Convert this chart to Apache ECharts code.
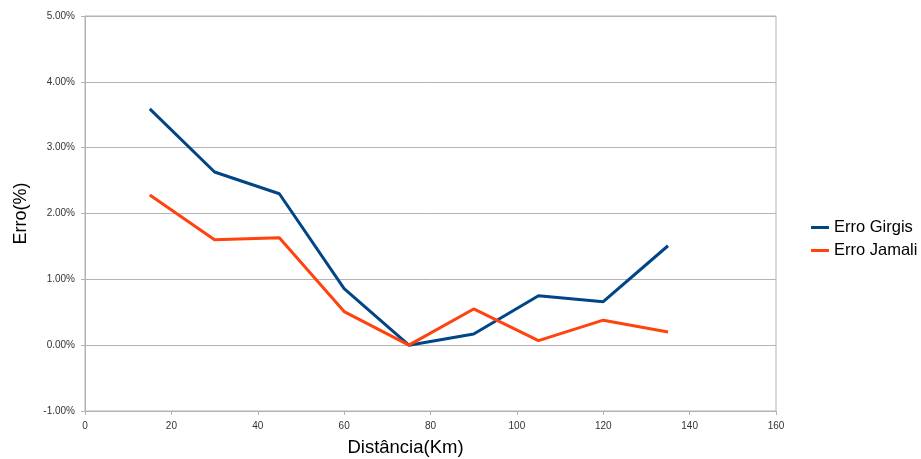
<!DOCTYPE html>
<html>
<head>
<meta charset="utf-8">
<script src="https://cdn.jsdelivr.net/npm/echarts@6/dist/echarts.min.js"></script>
<style>html,body{margin:0;padding:0;background:#fff;}#c{width:921px;height:459px;}</style>
</head>
<body>
<div id="c"></div>
<script>
const distances = [15, 30, 45, 60, 75, 90, 105, 120, 135];
const erroGirgis = [3.59, 2.63, 2.30, 0.86, 0.00, 0.17, 0.75, 0.66, 1.51];
const erroJamali = [2.28, 1.60, 1.63, 0.51, 0.00, 0.55, 0.07, 0.38, 0.20];
const seriesNames = ['Erro Girgis', 'Erro Jamali'];
const xTitle = 'Distância(Km)';
const yTitle = 'Erro(%)';

const chart = echarts.init(document.getElementById('c'));
const pair = (xs, ys) => xs.map((x, i) => [x, ys[i]]);
const font = 'Liberation Sans, Arial, sans-serif';
chart.setOption({
  animation: false,
  backgroundColor: '#fff',
  grid: { left: 85, right: 145, top: 16, bottom: 48, show: true, borderColor: '#b3b3b3', borderWidth: 1,
          containLabel: false, outerBoundsMode: 'none' },
  legend: {
    orient: 'vertical', left: 806, top: 214,
    icon: 'rect', itemWidth: 18, itemHeight: 3, itemGap: 6,
    textStyle: { fontFamily: font, fontSize: 16.5, color: '#000' },
    data: seriesNames
  },
  xAxis: {
    type: 'value', min: 0, max: 160, interval: 20,
    name: xTitle, nameLocation: 'middle', nameGap: 27,
    nameTextStyle: { fontFamily: font, fontSize: 18.5, color: '#000', padding: [0, 50, 0, 0] },
    axisLine: { show: true, onZero: false, lineStyle: { color: '#b3b3b3', width: 1 } },
    axisTick: { show: true, length: 4, lineStyle: { color: '#b3b3b3' } },
    axisLabel: { fontFamily: font, fontSize: 10, color: '#333', margin: 10 },
    splitLine: { show: false }
  },
  yAxis: {
    type: 'value', min: -1, max: 5, interval: 1,
    name: yTitle, nameLocation: 'middle', nameGap: 55, nameRotate: 90,
    nameTextStyle: { fontFamily: font, fontSize: 18, color: '#000' },
    axisLine: { show: true, onZero: false, lineStyle: { color: '#b3b3b3', width: 1 } },
    axisTick: { show: true, length: 4, lineStyle: { color: '#b3b3b3' } },
    axisLabel: { fontFamily: font, fontSize: 10, color: '#333', margin: 10, formatter: v => v.toFixed(2) + '%' },
    splitLine: { show: true, lineStyle: { color: '#b3b3b3', width: 1 } }
  },
  series: [
    { name: seriesNames[0], type: 'line', data: pair(distances, erroGirgis), showSymbol: false, symbol: 'none',
      itemStyle: { color: '#004586' }, lineStyle: { color: '#004586', width: 3 } },
    { name: seriesNames[1], type: 'line', data: pair(distances, erroJamali), showSymbol: false, symbol: 'none',
      itemStyle: { color: '#ff420e' }, lineStyle: { color: '#ff420e', width: 3 } }
  ]
});
</script>
</body>
</html>
